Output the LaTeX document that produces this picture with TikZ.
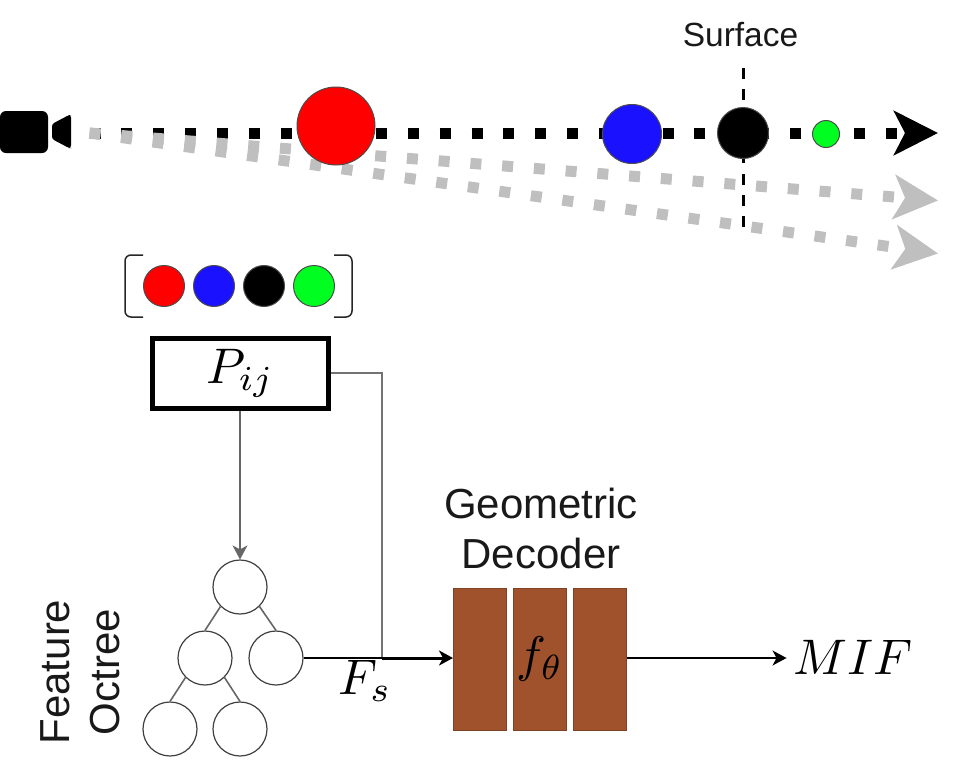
\documentclass[tikz,border=0pt]{standalone}
\usepackage{amsmath,amssymb}
\usepackage{fontspec}
\setmainfont{Liberation Sans}
\usepackage{xcolor}
\usetikzlibrary{arrows.meta,positioning,calc}
\definecolor{rayGray}{HTML}{BFBFBF}
\definecolor{decoderBrown}{HTML}{A0522D}
\definecolor{sphereBlue}{HTML}{1A12FF}
\definecolor{sphereGreen}{HTML}{00FF21}

\begin{document}
\begin{tikzpicture}[
  x=1pt, y=-1pt,
  sphere/.style={circle, draw=black!70, line width=1pt, inner sep=0pt},
  treenode/.style={circle, draw=black!75, line width=1.2pt, fill=white, minimum size=54pt, inner sep=0pt},
  treeedge/.style={draw=black!60, line width=1.6pt},
  block/.style={draw=decoderBrown!80!black, line width=1pt, fill=decoderBrown, minimum width=53pt, minimum height=142pt, inner sep=0pt},
  ray/.style={line width=11pt, dash pattern=on 11pt off 20.84pt},
  flow/.style={draw=black, line width=1.5pt, -{Stealth[length=14pt,width=15pt,inset=4pt]}},
  wire/.style={draw=black!55, line width=2pt},
  label/.style={font=\fontsize{42}{50}\selectfont, text=black!90, align=center, inner sep=0pt},
  mathlabel/.style={scale=5, inner sep=0pt}
]
\useasboundingbox (0,0) rectangle (957,771);

% camera
\node[fill=black, rounded corners=6pt, minimum width=48pt, minimum height=42pt, inner sep=0pt] (camera) at (24,132) {};
\fill[rounded corners=2.5pt] (52,124) -- (69,115) -- (71,115) -- (71,148) -- (69,148) -- (52,139) -- cycle;

\coordinate (origin) at (89.5,133);
\coordinate (endA) at (938,133);
\coordinate (endB) at (938,200.5);
\coordinate (endC) at (938,253.5);

% rays
\draw[ray, black, -{Stealth[length=44pt,width=44pt,inset=11pt]}] (origin) -- (endA);
\draw[ray, rayGray, -{Stealth[length=44pt,width=44pt,inset=11pt]}] (origin) -- (endB);
\draw[ray, rayGray, -{Stealth[length=44pt,width=44pt,inset=11pt]}] (origin) -- (endC);

% surface
\coordinate (surfTop) at (743,68);
\coordinate (surfBot) at (743,228);
\draw[black, line width=3pt, dash pattern=on 10.5pt off 10.7pt] (surfTop) -- (surfBot);
\node[font=\fontsize{33.5}{40}\selectfont, text=black!90, inner sep=0pt] (surface) at (740.5,34.5) {Surface};

% samples along the ray
\node[sphere, fill=red, minimum size=78pt] (s1) at (336,126) {};
\node[sphere, fill=sphereBlue, minimum size=59pt] (s2) at (632,134) {};
\node[sphere, fill=black, minimum size=51pt] (s3) at (743,133) {};
\node[sphere, fill=sphereGreen, minimum size=27pt] (s4) at (826,134) {};

% feature vector
\node[sphere, fill=red, minimum size=41pt] (v1) at (164,286) {};
\node[sphere, fill=sphereBlue, minimum size=41pt, right=8pt of v1] (v2) {};
\node[sphere, fill=black, minimum size=41pt, right=8pt of v2] (v3) {};
\node[sphere, fill=sphereGreen, minimum size=41pt, right=8pt of v3] (v4) {};
\draw[black!85, line width=1.5pt, rounded corners=6pt] (143,255) -- (125,255) -- (125,317) -- (143,317);
\draw[black!85, line width=1.5pt, rounded corners=6pt] (334,255) -- (352,255) -- (352,317) -- (334,317);

% query box
\node[draw=black, line width=5pt, minimum width=176pt, minimum height=70pt, inner sep=0pt] (pij) at (240.5,373.5) {};
\node[mathlabel] (pijtext) at (pij) {$P_{ij}$};

% octree
\node[treenode] (t1) at (240,587) {};
\node[treenode] (t2) at (205,658) {};
\node[treenode] (t3) at (276,658) {};
\node[treenode] (t4) at (170,729) {};
\node[treenode] (t5) at (240,729) {};
\draw[treeedge] (t1.south west) -- (t2.north);
\draw[treeedge] (t1.south east) -- (t3.north);
\draw[treeedge] (t2.south west) -- (t4.north);
\draw[treeedge] (t2.south east) -- (t5.north);
\node[label, rotate=90] (feature) at (55,672) {Feature};
\node[label, rotate=90] (octree) at (105,672) {Octree};

% decoder
\node[block] (d1) at (480,659) {};
\node[block, right=6pt of d1] (d2) {};
\node[block, right=6pt of d2] (d3) {};
\node[mathlabel] (ftheta) at (d2) {$f_\theta$};
\node[label] (decoder) at (541,528) {Geometric\\Decoder};

\coordinate (junction) at (382,658);
\draw[flow, draw=black!60] (t1.north |- pij.south) -- (t1.north);
\draw[wire] (pij.east |- 0,373) -- (junction |- 0,373) -- (junction);
\draw[draw=black, line width=1.5pt] (t3.east) -- (junction);
\draw[flow, line width=3pt] (junction) -- (d1.west |- junction);
\node[mathlabel] (fs) at (365,681) {$F_s$};

% output
\node[mathlabel] (mif) at (853,657) {$MIF$};
\draw[flow, shorten >=6pt] (d3.east |- junction) -- (mif.west |- junction);
\end{tikzpicture}
\end{document}
